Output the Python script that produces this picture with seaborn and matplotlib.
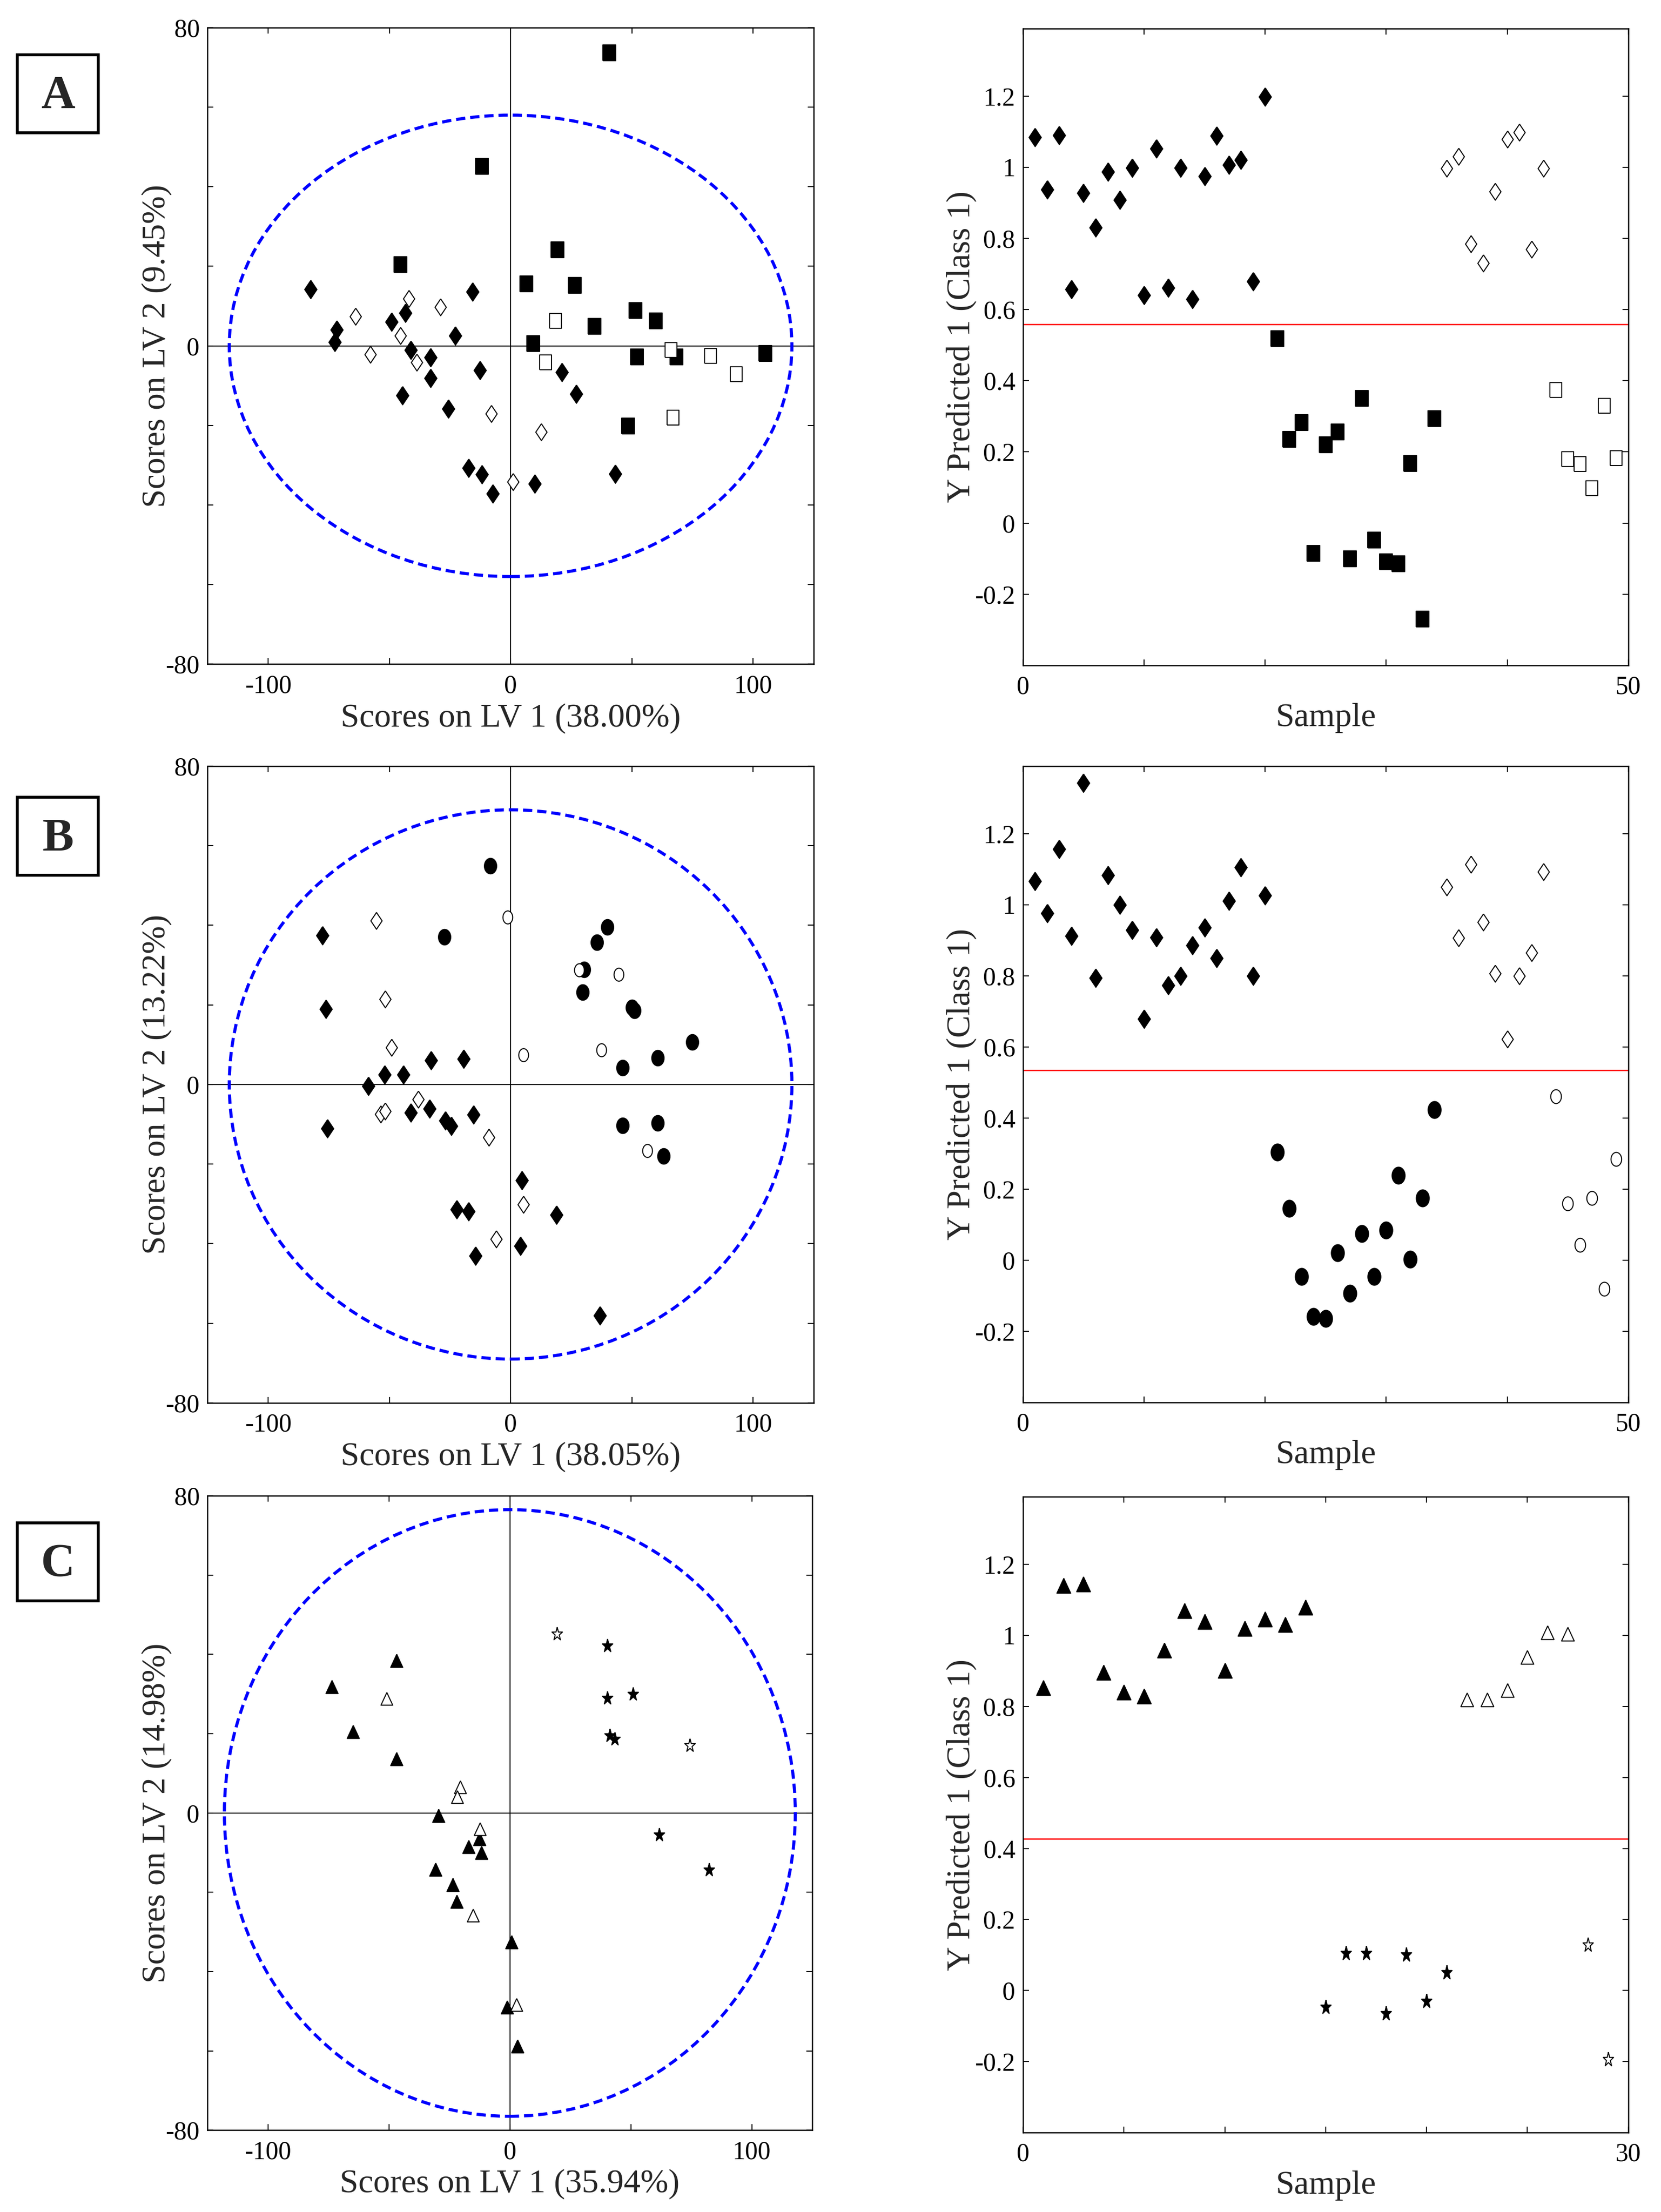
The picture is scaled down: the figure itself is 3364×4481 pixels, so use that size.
import numpy as np
import matplotlib
matplotlib.use("Agg")
import matplotlib.pyplot as plt
from matplotlib.patches import Ellipse, Rectangle
import seaborn as sns

# ---- panel A : scores on LV1 / LV2 ----
a_fd_x = [-82.4, -71.6, -72.5, -49.1, -43.4, -41.2, -33.0, -33.0, -44.7, -25.6,
          -22.9, -15.6, -12.6, -17.4, -11.9, -7.3, 9.9, 21.1, 27.1, 43.2]
a_fd_y = [14.2, 4.1, 0.9, 6.0, 8.3, -1.1, -2.9, -8.1, -12.4, -15.8,
          2.5, 13.6, -6.1, -30.7, -32.3, -37.1, -34.7, -6.6, -12.1, -32.2]
a_od_x = [-63.9, -57.9, -45.4, -41.9, -38.8, -28.9, -7.9, 12.6, 0.9]
a_od_y = [7.4, -2.2, 2.5, 11.9, -4.1, 9.8, -17.1, -21.7, -34.2]
a_fs_x = [40.7, -11.9, -45.4, 19.4, 6.4, 26.4, 9.3, 34.6, 51.5, 59.9, 52.2, 68.3, 105.1, 48.5]
a_fs_y = [73.7, 45.1, 20.4, 24.1, 15.6, 15.2, 0.6, 4.9, 8.9, 6.3, -2.8, -2.8, -1.9, -20.1]
a_os_x = [18.5, 14.5, 66.1, 82.4, 93.0, 67.0]
a_os_y = [6.3, -4.2, -1.1, -2.5, -7.1, -18.1]
a_ellipse = (116, 58)
a_var = ("38.00%", "9.45%")

# ---- panel A : predictions ----
a_pred_fd = [1.084, 0.937, 1.090, 0.657, 0.927, 0.830, 0.987, 0.908, 0.999, 0.640,
             1.052, 0.661, 0.999, 0.630, 0.975, 1.089, 1.007, 1.020, 0.679, 1.198]
a_pred_fs = [0.519, 0.235, 0.282, -0.085, 0.220, 0.256, -0.101, 0.351, -0.048, -0.109,
             -0.114, 0.168, -0.270, 0.294]
a_pred_od = [0.997, 1.030, 0.785, 0.731, 0.932, 1.079, 1.098, 0.769, 0.997]
a_pred_os = [0.374, 0.180, 0.166, 0.098, 0.330, 0.183]
a_threshold = 0.558

# ---- panel B : scores ----
b_fd_x = [-77.5, -76.2, -75.6, -58.6, -52.0, -44.1, -32.8, -19.4, -41.2, -33.5,
          -26.9, -24.4, -15.2, 4.6, -22.2, -17.4, -14.5, 4.0, 18.9, 36.8]
b_fd_y = [37.4, 19.0, -11.0, -0.4, 2.5, 2.5, 6.0, 6.4, -7.1, -6.1,
          -9.1, -10.5, -7.6, -24.1, -31.4, -31.9, -43.1, -40.6, -32.8, -58.1]
b_od_x = [-55.3, -51.8, -49.1, -38.1, -53.5, -51.8, -9.0, 5.3, -5.9]
b_od_y = [41.2, 21.4, 9.3, -3.7, -7.5, -6.7, -13.3, -30.2, -38.8]
b_fc_x = [-8.4, -27.3, 39.9, 35.7, 30.4, 29.7, 50.0, 51.1, 74.9, 60.6, 46.3, 46.3, 60.6, 63.0]
b_fc_y = [54.9, 37.0, 39.5, 35.7, 28.9, 23.2, 19.3, 18.6, 10.7, 6.7, 4.2, -10.3, -9.7, -18.0]
b_oc_x = [-1.3, 28.2, 44.5, 5.3, 37.4, 56.4]
b_oc_y = [42.0, 28.7, 27.6, 7.4, 8.7, -16.6]
b_ellipse = (116, 69)
b_var = ("38.05%", "13.22%")

# ---- panel B : predictions ----
b_pred_fd = [1.066, 0.976, 1.156, 0.912, 1.342, 0.794, 1.083, 0.999, 0.929, 0.679,
             0.908, 0.773, 0.800, 0.886, 0.936, 0.849, 1.011, 1.105, 0.799, 1.026]
b_pred_fc = [0.304, 0.146, -0.046, -0.159, -0.164, 0.021, -0.093, 0.075, -0.046, 0.085,
             0.238, 0.003, 0.175, 0.423]
b_pred_od = [1.049, 0.907, 1.114, 0.951, 0.806, 0.622, 0.800, 0.865, 1.092]
b_pred_oc = [0.461, 0.160, 0.043, 0.175, -0.081, 0.284]
b_threshold = 0.534

# ---- panel C : scores ----
c_ft_x = [-46.9, -73.6, -64.8, -46.9, -29.6, -12.6, -17.0, -11.7, -30.7, -23.6, -21.9, 0.7, -1.1, 3.1]
c_ft_y = [38.4, 31.8, 20.5, 13.7, -0.7, -6.5, -8.5, -10.0, -14.3, -18.1, -22.3, -32.5, -49.0, -58.8]
c_ot_x = [-51.0, -20.6, -21.7, -12.4, -15.2, 2.7]
c_ot_y = [28.8, 6.6, 4.1, -4.0, -25.8, -48.4]
c_fst_x = [40.2, 40.2, 51.0, 41.3, 43.3, 61.7, 82.4]
c_fst_y = [42.1, 29.0, 30.0, 19.5, 18.6, -5.5, -14.4]
c_ost_x = [19.4, 74.3]
c_ost_y = [45.1, 17.0]
c_ellipse = (118, 76.5)
c_var = ("35.94%", "14.98%")

# ---- panel C : predictions ----
c_pred_ft = [0.852, 1.140, 1.144, 0.895, 0.840, 0.829, 0.958, 1.069, 1.039, 0.901,
             1.019, 1.046, 1.030, 1.079]
c_pred_fst = [-0.047, 0.105, 0.105, -0.065, 0.101, -0.030, 0.051]
c_pred_ot = [0.819, 0.819, 0.845, 0.938, 1.008, 1.004]
c_pred_ost = [0.128, -0.194]
c_threshold = 0.427

# marker shapes (the source figure was stretched vertically, so shapes are tall)
_t = np.linspace(0, 2 * np.pi, 61)
def oval(ratio):
    return np.column_stack([0.5 * ratio * np.cos(_t), 0.5 * np.sin(_t)])

def star(ratio):
    ang = np.deg2rad(90 + 36 * np.arange(11))
    rad = np.where(np.arange(11) % 2 == 0, 1.0, 0.382)
    return np.column_stack([ratio * rad * np.cos(ang), rad * np.sin(ang)])

DIAM = [(0, 0.5), (0.335, 0), (0, -0.5), (-0.335, 0), (0, 0.5)]
RECT = [(-0.395, -0.5), (0.395, -0.5), (0.395, 0.5), (-0.395, 0.5), (-0.395, -0.5)]
TRI = [(0, 0.5), (-0.465, -0.5), (0.465, -0.5), (0, 0.5)]
STAR_L = star(0.8)
STAR_R = star(0.72)

sns.set_style("ticks")
plt.rcParams["font.family"] = ["Liberation Serif", "DejaVu Serif"]
plt.rcParams["axes.unicode_minus"] = False
plt.rcParams["axes.linewidth"] = 0.6

TICK_FS = 12.4
LABEL_FS = 16.3

fig = plt.figure(figsize=(3364 / 300, 4481 / 300), dpi=300)


def style_axes(ax):
    ax.tick_params(direction="in", length=2.9, width=0.5, top=True, right=True,
                   labelsize=TICK_FS, colors="black")
    ax.tick_params(axis="y", pad=3.8)
    ax.tick_params(axis="x", pad=5)
    for sp in ax.spines.values():
        sp.set_color("black")
        sp.set_linewidth(0.6)


def draw(ax, x, y, marker, size, filled, lw=0.5):
    sns.scatterplot(x=x, y=y, ax=ax, marker=marker, s=size,
                    color="black" if filled else "white", edgecolor="black",
                    linewidth=lw, zorder=3, legend=False)


def score_panel(ax, groups, semi, var):
    for x, y, mk, s, filled in groups:
        draw(ax, x, y, mk, s, filled)
    ax.axhline(0, color="black", lw=0.5, zorder=1)
    ax.axvline(0, color="black", lw=0.5, zorder=1)
    ax.add_patch(Ellipse((0, 0), 2 * semi[0], 2 * semi[1], fill=False,
                         edgecolor="blue", lw=1.5, ls=(0, (3, 1.6)), zorder=2))
    ax.set_xlim(-125, 125)
    ax.set_ylim(-80, 80)
    ax.set_xticks([-100, -50, 0, 50, 100])
    ax.set_xticklabels(["-100", "", "0", "", "100"])
    ax.set_yticks(np.arange(-80, 81, 20))
    ax.set_yticklabels(["-80", "", "", "", "0", "", "", "", "80"])
    style_axes(ax)
    ax.set_xlabel(f"Scores on LV 1 ({var[0]})", fontsize=LABEL_FS, va="center")
    ax.set_ylabel(f"Scores on LV 2 ({var[1]})", fontsize=LABEL_FS, va="center")
    ax.xaxis.set_label_coords(0.5, -0.085)
    ax.yaxis.set_label_coords(-0.084, 0.5)


def pred_panel(ax, groups, thr, n_max, step):
    start = 1
    for vals, mk, s, filled in groups:
        samples = np.arange(start, start + len(vals))
        draw(ax, samples, vals, mk, s, filled)
        start += len(vals)
    ax.axhline(thr, color="red", lw=0.6, zorder=1)
    ax.set_xlim(0, n_max)
    ax.set_ylim(-0.4, 1.39)
    xt = np.arange(0, n_max + 1, step)
    ax.set_xticks(xt)
    ax.set_xticklabels([str(v) if v in (0, n_max) else "" for v in xt])
    yt = np.round(np.arange(-0.2, 1.21, 0.2), 1)
    ax.set_yticks(yt)
    ax.set_yticklabels([f"{v:g}" for v in yt])
    style_axes(ax)
    ax.set_xlabel("Sample", fontsize=LABEL_FS, va="center")
    ax.set_ylabel("Y Predicted 1 (Class 1)", fontsize=LABEL_FS, va="center")
    ax.xaxis.set_label_coords(0.5, -0.083)
    ax.yaxis.set_label_coords(-0.102, 0.5)


# axes positions (figure fractions)
axA1 = fig.add_axes([0.1249, 0.6998, 0.3650, 0.2877])
axA2 = fig.add_axes([0.6159, 0.6992, 0.3644, 0.2879])
axB1 = fig.add_axes([0.1249, 0.3658, 0.3650, 0.2879])
axB2 = fig.add_axes([0.6159, 0.3660, 0.3644, 0.2877])
axC1 = fig.add_axes([0.1249, 0.0370, 0.3641, 0.2868])
axC2 = fig.add_axes([0.6159, 0.0359, 0.3644, 0.2874])

score_panel(axA1, [(a_fd_x, a_fd_y, DIAM, 79, True),
                   (a_od_x, a_od_y, DIAM, 67, False),
                   (a_fs_x, a_fs_y, RECT, 59, True),
                   (a_os_x, a_os_y, RECT, 55, False)], a_ellipse, a_var)
pred_panel(axA2, [(a_pred_fd, DIAM, 79, True),
                  (a_pred_fs, RECT, 59, True),
                  (a_pred_od, DIAM, 67, False),
                  (a_pred_os, RECT, 55, False)], a_threshold, 50, 10)

score_panel(axB1, [(b_fd_x, b_fd_y, DIAM, 79, True),
                   (b_od_x, b_od_y, DIAM, 67, False),
                   (b_fc_x, b_fc_y, oval(0.79), 57, True),
                   (b_oc_x, b_oc_y, oval(0.75), 40, False)], b_ellipse, b_var)
pred_panel(axB2, [(b_pred_fd, DIAM, 79, True),
                  (b_pred_fc, oval(0.77), 67, True),
                  (b_pred_od, DIAM, 67, False),
                  (b_pred_oc, oval(0.77), 45, False)], b_threshold, 50, 10)

score_panel(axC1, [(c_ft_x, c_ft_y, TRI, 40, True),
                   (c_ot_x, c_ot_y, TRI, 38, False),
                   (c_fst_x, c_fst_y, STAR_L, 45, True),
                   (c_ost_x, c_ost_y, STAR_L, 45, False)], c_ellipse, c_var)
pred_panel(axC2, [(c_pred_ft, TRI, 52, True),
                  (c_pred_fst, STAR_R, 53, True),
                  (c_pred_ot, TRI, 44, False),
                  (c_pred_ost, STAR_R, 53, False)], c_threshold, 30, 5)

# panel letters in framed boxes
for letter, cy in (("A", 0.95760), ("B", 0.62185), ("C", 0.29391)):
    h = 0.03526
    fig.add_artist(Rectangle((0.0104, cy - h / 2), 0.0488, h, transform=fig.transFigure,
                             fill=False, edgecolor="black", lw=1.4))
    fig.text(0.0348, cy - 0.0065, letter, fontsize=22.9, fontweight="bold",
             ha="center", va="baseline")

fig.savefig("out.png", dpi=300)
